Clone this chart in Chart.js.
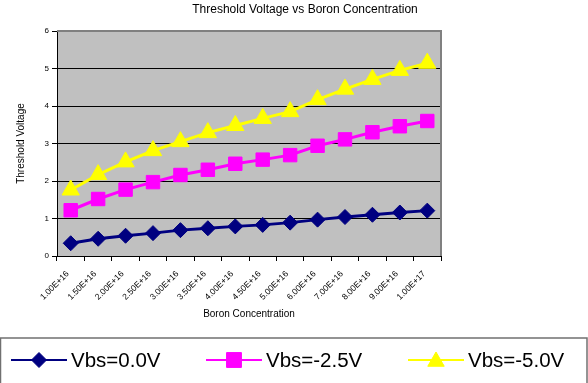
<!DOCTYPE html>
<html>
<head>
<meta charset="utf-8">
<script src="https://cdn.jsdelivr.net/npm/chart.js@4.4.1/dist/chart.umd.min.js"></script>
<style>
  html, body { margin: 0; padding: 0; background: #fff; }
  #wrap { width: 588px; height: 383px; }
</style>
</head>
<body>
<div id="wrap"><canvas id="c" width="588" height="383"></canvas></div>
<script>
// Boron concentration steps (cm^-3)
const concentrations = ['1.00E+16', '1.50E+16', '2.00E+16', '2.50E+16', '3.00E+16', '3.50E+16', '4.00E+16',
  '4.50E+16', '5.00E+16', '6.00E+16', '7.00E+16', '8.00E+16', '9.00E+16', '1.00E+17'];

// Threshold voltage (V) for each body bias
const vbs0 = [0.34, 0.46, 0.54, 0.61, 0.69, 0.74, 0.79, 0.83, 0.89, 0.97, 1.04, 1.10, 1.16, 1.21];
const vbs25 = [1.22, 1.52, 1.77, 1.97, 2.16, 2.30, 2.46, 2.57, 2.69, 2.94, 3.11, 3.30, 3.46, 3.60];
const vbs50 = [1.76, 2.17, 2.51, 2.81, 3.05, 3.29, 3.48, 3.67, 3.85, 4.17, 4.45, 4.71, 4.95, 5.14];

const seriesNames = ['Vbs=0.0V', 'Vbs=-2.5V', 'Vbs=-5.0V'];
const yTicks = [0, 1, 2, 3, 4, 5, 6];

const FONT = '"Liberation Sans", Arial, sans-serif';

// Grey plot background with a grey frame on the top and right
const plotFrame = {
  id: 'plotFrame',
  beforeDraw(chart) {
    const { ctx, chartArea: a } = chart;
    ctx.save();
    ctx.fillStyle = '#C0C0C0';
    ctx.fillRect(a.left, a.top, a.right - a.left, a.bottom - a.top);
    ctx.restore();
  },
  beforeDatasetsDraw(chart) {
    const { ctx, chartArea: a } = chart;
    ctx.save();
    ctx.strokeStyle = '#808080';
    ctx.lineWidth = 2;
    ctx.beginPath();
    ctx.moveTo(a.left, a.top);
    ctx.lineTo(a.right, a.top);
    ctx.lineTo(a.right, a.bottom);
    ctx.stroke();
    ctx.restore();
  }
};

// Chart title and boxed legend at the foot of the page
const titleAndLegend = {
  id: 'titleAndLegend',
  afterDraw(chart) {
    const { ctx } = chart;
    ctx.save();
    ctx.fillStyle = '#000';
    ctx.font = '12px ' + FONT;
    ctx.textAlign = 'center';
    ctx.textBaseline = 'middle';
    ctx.fillText('Threshold Voltage vs Boron Concentration', 305, 10);

    // legend frame
    ctx.strokeStyle = '#707070';
    ctx.lineWidth = 1.5;
    ctx.strokeRect(0.5, 338, 586.5, 60);

    const starts = [11, 206, 408];
    const y = 360;
    chart.data.datasets.forEach((ds, i) => {
      const x0 = starts[i], x1 = x0 + 56;
      ctx.strokeStyle = ds.borderColor;
      ctx.lineWidth = 2;
      ctx.beginPath();
      ctx.moveTo(x0, y);
      ctx.lineTo(x1, y);
      ctx.stroke();
      ctx.fillStyle = ds.pointBackgroundColor;
      ctx.strokeStyle = ds.pointBorderColor;
      ctx.lineWidth = 1;
      const r = ds.pointStyle === 'triangle' ? 9.5 : (ds.pointStyle === 'rect' ? 10.5 : 7.5);
      const yy = ds.pointStyle === 'triangle' ? y + 1.5 : y;
      Chart.helpers.drawPoint(ctx, { pointStyle: ds.pointStyle, radius: r, borderWidth: 1, rotation: 0 }, (x0 + x1) / 2, yy);
      ctx.fillStyle = '#000';
      ctx.font = '20.5px ' + FONT;
      ctx.textAlign = 'left';
      ctx.textBaseline = 'middle';
      ctx.fillText(ds.label, x1 + 4, y + 1);
    });
    ctx.restore();
  }
};

new Chart(document.getElementById('c'), {
  type: 'line',
  data: {
    labels: concentrations,
    datasets: [
      { label: seriesNames[0], data: vbs0, borderColor: '#000080', backgroundColor: '#000080',
        pointStyle: 'rectRot', pointRadius: 7.5, pointBackgroundColor: '#000080', pointBorderColor: '#000080', pointBorderWidth: 1 },
      { label: seriesNames[1], data: vbs25, borderColor: '#FF00FF', backgroundColor: '#FF00FF',
        pointStyle: 'rect', pointRadius: 9.5, pointBackgroundColor: '#FF00FF', pointBorderColor: '#FF00FF', pointBorderWidth: 1 },
      { label: seriesNames[2], data: vbs50, borderColor: '#FFFF00', backgroundColor: '#FFFF00',
        pointStyle: 'triangle', pointRadius: 10, pointBackgroundColor: '#FFFF00', pointBorderColor: '#FFFF00', pointBorderWidth: 1 }
    ].map(d => Object.assign(d, { borderWidth: 3, tension: 0, fill: false, pointHoverRadius: d.pointRadius }))
  },
  options: {
    responsive: false,
    animation: false,
    devicePixelRatio: 1,
    layout: { padding: { top: 31, right: 147, left: 0, bottom: 0 } },
    plugins: {
      legend: { display: false },
      title: { display: false },
      tooltip: { enabled: false }
    },
    scales: {
      x: {
        type: 'category',
        offset: true,
        afterFit(scale) { scale.height = 127; },
        grid: { display: true, drawOnChartArea: false, drawTicks: true, tickLength: 5, color: '#000', lineWidth: 1, offset: true },
        border: { display: true, color: '#000', width: 1 },
        ticks: {
          autoSkip: false, maxRotation: 45, minRotation: 45, padding: 8, labelOffset: -3,
          color: '#000', font: { family: FONT, size: 8.5 }
        },
        title: {
          display: true, text: 'Boron Concentration', color: '#000',
          font: { family: FONT, size: 10 }, padding: { top: 0, bottom: 63 }
        }
      },
      y: {
        min: 0, max: 6,
        afterFit(scale) { scale.width = 57; },
        afterBuildTicks(scale) { scale.ticks = yTicks.map(v => ({ value: v })); },
        grid: { color: '#000', lineWidth: 1, tickLength: 5, drawTicks: true },
        border: { display: true, color: '#000', width: 1 },
        ticks: { color: '#000', font: { family: FONT, size: 8 }, padding: 3 },
        title: {
          display: true, text: 'Threshold Voltage', color: '#000',
          font: { family: FONT, size: 10 }, padding: { top: 15, bottom: 0 }
        }
      }
    }
  },
  plugins: [plotFrame, titleAndLegend]
});
</script>
</body>
</html>
